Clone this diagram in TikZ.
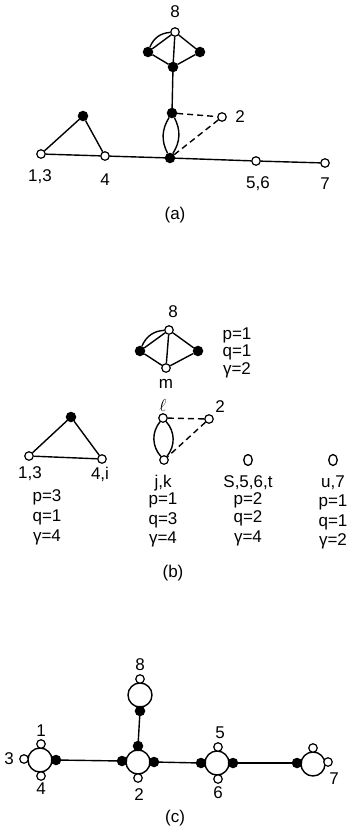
\documentclass[tikz,border=0pt]{standalone}
\usepackage{fontspec}
\setmainfont{Liberation Sans}
\usetikzlibrary{shapes.geometric}
\begin{document}
\begin{tikzpicture}[x=1pt,y=-1pt,line width=1.4pt,
  wv/.style={circle,draw,fill=white,inner sep=0pt,minimum size=8.5pt,line width=1.2pt},
  bv/.style={circle,draw,fill=black,inner sep=0pt,minimum size=9pt},
  iso/.style={ellipse,draw,fill=white,inner sep=0pt,minimum width=8.5pt,minimum height=11pt,line width=1.3pt},
  ring/.style={circle,draw,inner sep=0pt,minimum size=24pt,line width=1.4pt},
  lbl/.style={inner sep=0pt,font=\fontsize{17}{19}\selectfont},
  dsh/.style={dash pattern=on 6pt off 4pt}]
\useasboundingbox (0,0) rectangle (354,833);

% ---------------- (a) ----------------
\node[wv] (a8) at (175,32) {};
\node[bv] (aL) at (148,52) {};
\node[bv] (aR) at (200,52) {};
\node[bv] (aC) at (173,67) {};
\node[bv] (aU) at (172,113) {};
\node[bv] (aD) at (170,158) {};
\node[wv] (a2) at (222,117) {};
\node[bv] (aT) at (83,116) {};
\node[wv] (a13) at (41,154) {};
\node[wv] (a4) at (105,156) {};
\node[wv] (a56) at (256,161) {};
\node[wv] (a7) at (325,163) {};
\draw (aL) to[bend left=32] (a8);
\draw (aL) -- (a8);
\draw (a8) -- (aC);
\draw (aL) -- (aC);
\draw (aC) -- (aR);
\draw (aR) -- (a8);
\draw (aC) -- (aU);
\draw (aU) to[bend left=30] (aD);
\draw (aU) to[bend right=30] (aD);
\draw[dsh] (aU) -- (a2);
\draw[dsh] (a2) -- (aD);
\draw (a13) -- (aT);
\draw (aT) -- (a4);
\draw (a13) -- (a4);
\draw (a4) -- (aD);
\draw (aD) -- (a56);
\draw (a56) -- (a7);
\node[lbl] (la8) at (175,12) {8};
\node[lbl] (la2) at (240,117) {2};
\node[lbl] (la13) at (40,177) {1,3};
\node[lbl] (la4) at (105,180) {4};
\node[lbl] (la56) at (258,184) {5,6};
\node[lbl] (la7) at (325,184) {7};
\node[lbl] (capa) at (175,215) {(a)};

% ---------------- (b) ----------------
\node[wv] (b8) at (169,330) {};
\node[bv] (bL) at (140,351) {};
\node[bv] (bR) at (198,351) {};
\node[wv] (bm) at (166,368) {};
\draw (bL) to[bend left=32] (b8);
\draw (bL) -- (b8);
\draw (b8) -- (bm);
\draw (bL) -- (bm);
\draw (bm) -- (bR);
\draw (bR) -- (b8);
\node[lbl] (lb8) at (173,312) {8};
\node[lbl] (lbm) at (166,384) {m};
\node[lbl] (b8p) at (237,335) {p=1};
\node[lbl] (b8q) at (237,352) {q=1};
\node[lbl] (b8g) at (237,370) {γ=2};

\node[wv] (bl) at (163,418) {};
\node[wv] (b2) at (209,419) {};
\node[wv] (bjk) at (164,460) {};
\draw (bl) to[bend left=40] (bjk);
\draw (bl) to[bend right=40] (bjk);
\draw[dsh] (bl) -- (b2);
\draw[dsh] (b2) -- (bjk);
\node[lbl] (lell) at (163,405) {$\ell$};
\node[lbl] (lb2) at (220,407) {2};

\node[bv] (bT) at (71,417) {};
\node[wv] (b13) at (29,456) {};
\node[wv] (b4i) at (102,459) {};
\draw (b13) -- (bT);
\draw (bT) -- (b4i);
\draw (b13) -- (b4i);
\node[lbl] (lb13) at (30,474) {1,3};
\node[lbl] (lb4i) at (100,474) {4,i};
\node[lbl] (t1p) at (47,497) {p=3};
\node[lbl] (t1q) at (47,517) {q=1};
\node[lbl] (t1g) at (47,537) {γ=4};

\node[lbl] (ljk) at (163,483) {j,k};
\node[lbl] (t2p) at (163,500) {p=1};
\node[lbl] (t2q) at (163,520) {q=3};
\node[lbl] (t2g) at (163,539) {γ=4};

\node[iso] (bS) at (248,460) {};
\node[lbl] (lS) at (248,483) {S,5,6,t};
\node[lbl] (t3p) at (248,500) {p=2};
\node[lbl] (t3q) at (248,518) {q=2};
\node[lbl] (t3g) at (248,538) {γ=4};

\node[iso] (bu) at (333,460) {};
\node[lbl] (lu) at (333,483) {u,7};
\node[lbl] (t4p) at (333,502) {p=1};
\node[lbl] (t4q) at (333,522) {q=1};
\node[lbl] (t4g) at (333,541) {γ=2};

\node[lbl] (capb) at (173,573) {(b)};

% ---------------- (c) ----------------
% ring 8
\node[ring] (r8) at (140,695) {};
\node[wv] (r8t) at (140,679) {};
\node[bv] (r8b) at (140,711) {};
\node[lbl] (lc8) at (140,665) {8};
% ring 2
\node[ring] (r2) at (138,762) {};
\node[bv] (r2t) at (138,746) {};
\node[bv] (r2l) at (122,761) {};
\node[bv] (r2r) at (154,762) {};
\node[wv] (r2b) at (138,778) {};
\node[lbl] (lc2) at (139,795) {2};
% ring 1,3,4
\node[ring] (r1) at (40,760) {};
\node[wv] (r1t) at (41,744) {};
\node[wv] (r1l) at (24,759) {};
\node[wv] (r1b) at (41,776) {};
\node[bv] (r1r) at (56,760) {};
\node[lbl] (lc1) at (41,731) {1};
\node[lbl] (lc3) at (9,759) {3};
\node[lbl] (lc4) at (41,789) {4};
% ring 5,6
\node[ring] (r5) at (217,763) {};
\node[wv] (r5t) at (218,747) {};
\node[wv] (r5b) at (218,779) {};
\node[bv] (r5l) at (201,763) {};
\node[bv] (r5r) at (233,763) {};
\node[lbl] (lc5) at (220,733) {5};
\node[lbl] (lc6) at (218,793) {6};
% ring 7
\node[ring] (r7) at (313,764) {};
\node[wv] (r7t) at (313,748) {};
\node[wv] (r7r) at (328,762) {};
\node[bv] (r7l) at (297,763) {};
\node[lbl] (lc7) at (334,779) {7};
% connectors
\draw (r1r) -- (r2l);
\draw (r2r) -- (r5l);
\draw (r5r) -- (r7l);
\draw (r2t) -- (r8b);
\node[lbl] (capc) at (175,818) {(c)};
\end{tikzpicture}
\end{document}
